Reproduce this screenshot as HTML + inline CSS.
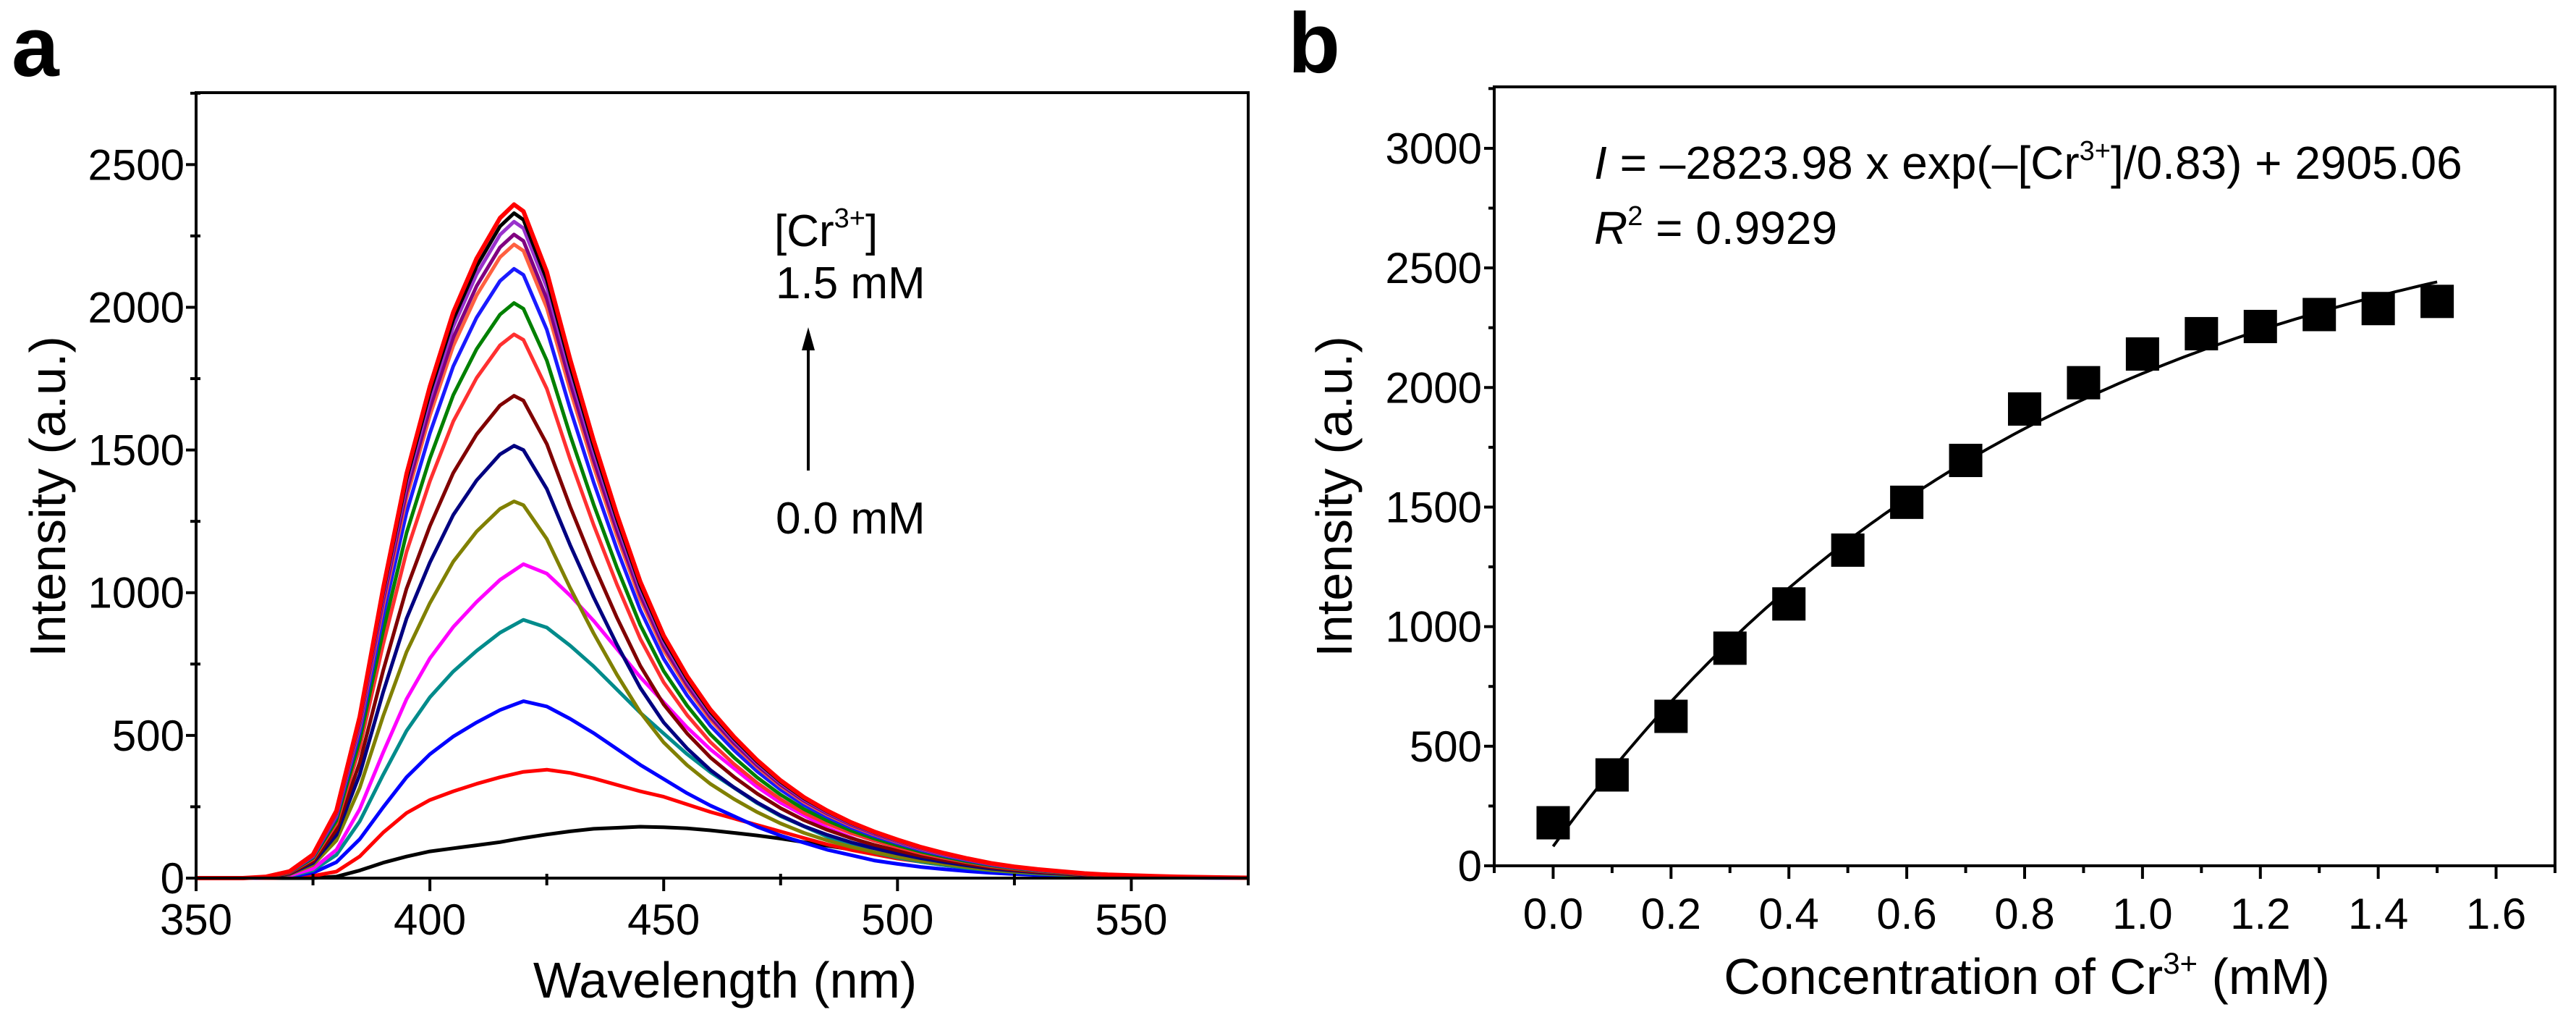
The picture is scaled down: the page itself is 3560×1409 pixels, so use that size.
<!DOCTYPE html>
<html><head><meta charset="utf-8"><style>
html,body{margin:0;padding:0;background:#fff;}
svg{display:block;font-family:"Liberation Sans",Arial,sans-serif;}
</style></head><body>
<svg id="fig" width="3560" height="1409" viewBox="0 0 3560 1409" xmlns="http://www.w3.org/2000/svg">
<g id="pa"></g>
<g id="pb"></g>
</svg>
<script>
// ---------- Panel a data ----------
const wl = [350,355,360,365,370,375,380,385,390,395,400,405,410,415,418,420,425,430,435,440,445,450,455,460,465,470,475,480,485,490,495,500,505,510,515,520,525,530,535,540,545,550,555,560,565,570,575];
const profileMain = [0,0,0,0.002,0.01,0.035,0.1,0.24,0.43,0.6,0.73,0.84,0.92,0.98,1.0,0.99,0.9,0.77,0.65,0.54,0.44,0.36,0.3,0.25,0.21,0.175,0.145,0.12,0.1,0.083,0.069,0.057,0.046,0.037,0.029,0.022,0.017,0.013,0.01,0.007,0.005,0.004,0.003,0.002,0.0015,0.001,0.0005];
const profileBroad = [0,0,0,0.002,0.008,0.03,0.09,0.22,0.4,0.57,0.7,0.8,0.88,0.95,0.98,1.0,0.97,0.9,0.82,0.73,0.64,0.56,0.48,0.41,0.35,0.29,0.24,0.2,0.16,0.13,0.1,0.08,0.063,0.05,0.039,0.03,0.023,0.017,0.013,0.009,0.007,0.005,0.003,0.002,0.0015,0.001,0.0005];
const profileRed = [0,0,0,0,0.005,0.02,0.06,0.2,0.42,0.6,0.72,0.8,0.87,0.93,0.96,0.98,1.0,0.97,0.92,0.86,0.8,0.75,0.68,0.61,0.55,0.49,0.43,0.37,0.31,0.26,0.22,0.18,0.15,0.12,0.09,0.07,0.055,0.04,0.03,0.022,0.015,0.01,0.007,0.005,0.003,0.002,0.001];
const profileBlack = [0,0,0,0,0,0,0.03,0.15,0.3,0.42,0.52,0.58,0.64,0.7,0.75,0.78,0.85,0.91,0.96,0.98,1.0,0.99,0.97,0.93,0.88,0.83,0.77,0.7,0.63,0.56,0.49,0.42,0.36,0.3,0.25,0.2,0.16,0.12,0.09,0.07,0.05,0.035,0.025,0.018,0.012,0.008,0.005];
const peaks = [180,380,620,905,1100,1320,1515,1690,1905,2015,2135,2220,2255,2300,2330,2360];
const colors = ["#000000","#ff0000","#0000ff","#008b8b","#ff00ff","#808000","#000080","#800000","#ff3030","#008000","#1a1aff","#ff6040","#800080","#9932cc","#000000","#ff0000"];
const xTicksA = [350,400,450,500,550];
const yTicksA = [0,500,1000,1500,2000,2500];

// ---------- Panel b data ----------
const conc = [0.0,0.1,0.2,0.3,0.4,0.5,0.6,0.7,0.8,0.9,1.0,1.1,1.2,1.3,1.4,1.5];
const intens = [180,380,625,910,1095,1320,1520,1695,1910,2020,2140,2225,2255,2305,2330,2360];
const fitA = [-2823.98];
const fitT = [0.83];
const fitY0 = [2905.06];
const xTicksB = ["0.0","0.2","0.4","0.6","0.8","1.0","1.2","1.4","1.6"];
const yTicksB = [0,500,1000,1500,2000,2500,3000];

const NS="http://www.w3.org/2000/svg";
function mk(parent,tag,attrs,text){const e=document.createElementNS(NS,tag);for(const k in attrs)e.setAttribute(k,attrs[k]);if(text!==undefined)e.textContent=text;parent.appendChild(e);return e;}

// ---------- Panel a ----------
const pa=document.getElementById('pa');
const A={l:271,r:1725,t:128,b:1213,x0:350,x1:575,y0:0,y1:2752};
const ax=v=>A.l+(v-A.x0)/(A.x1-A.x0)*(A.r-A.l);
const ay=v=>A.b-(v-A.y0)/(A.y1-A.y0)*(A.b-A.t);
let t=mk(pa,'text',{x:16,y:105,'font-size':118,'font-weight':'bold'},'a');


const curvesG=mk(pa,'g',{});


peaks.forEach((p,i)=>{
  const prof = i===0?profileBlack:(i===1?profileRed:(i<=4?profileBroad:profileMain));
  let d='';
  wl.forEach((w,j)=>{d+=(j?'L':'M')+ax(w).toFixed(1)+','+ay(p*prof[j]).toFixed(1);});
  const pl=mk(curvesG,'path',{d:d,fill:'none',stroke:colors[i],'stroke-width':(i===15?6:5),'stroke-linejoin':'round'});
  
  
});
let fr=mk(pa,'rect',{x:A.l,y:A.t,width:A.r-A.l,height:A.b-A.t,fill:'none',stroke:'#000','stroke-width':4});


for(let v=350;v<=575;v+=25){const maj=(v%50===0);mk(pa,'line',{x1:ax(v),x2:ax(v),y1:A.b-(maj?0:6),y2:A.b+(maj?18:10),stroke:'#000','stroke-width':4});}
xTicksA.forEach(v=>{const e=mk(pa,'text',{x:ax(v),y:1291,'font-size':60,'text-anchor':'middle'},String(v));

});
for(let v=0;v<=2750;v+=250){const maj=(v%500===0);mk(pa,'line',{x1:A.l-(maj?14:8),x2:A.l+(maj?0:6),y1:ay(v),y2:ay(v),stroke:'#000','stroke-width':4});}
yTicksA.forEach(v=>{const e=mk(pa,'text',{x:255,y:ay(v)+21,'font-size':60,'text-anchor':'end'},String(v));

});
t=mk(pa,'text',{x:1002,y:1378,'font-size':70,'text-anchor':'middle'},'Wavelength (nm)');


t=mk(pa,'text',{x:0,y:0,'font-size':70,'text-anchor':'middle',transform:'translate(90,686) rotate(-90)'},'Intensity (a.u.)');


t=mk(pa,'text',{x:1070,y:340,'font-size':62},'[Cr');


mk(t,'tspan',{dy:-26,'font-size':38},'3+');
mk(t,'tspan',{dy:26},']');
t=mk(pa,'text',{x:1072,y:412,'font-size':62},'1.5 mM');


t=mk(pa,'text',{x:1072,y:737,'font-size':62},'0.0 mM');


t=mk(pa,'line',{x1:1117,x2:1117,y1:650,y2:480,stroke:'#000','stroke-width':4});


t=mk(pa,'path',{d:'M1117,452 L1108,484 L1126,484 Z',fill:'#000'});



// ---------- Panel b ----------
const pb=document.getElementById('pb');
const B={l:2065,r:3531,t:120,b:1196,x0:-0.1,x1:1.7,y0:0,y1:3257};
const bx=v=>B.l+(v-B.x0)/(B.x1-B.x0)*(B.r-B.l);
const by=v=>B.b-(v-B.y0)/(B.y1-B.y0)*(B.b-B.t);
t=mk(pb,'text',{x:1780,y:100,'font-size':118,'font-weight':'bold'},'b');


fr=mk(pb,'rect',{x:B.l,y:B.t,width:B.r-B.l,height:B.b-B.t,fill:'none',stroke:'#000','stroke-width':4});


for(let i=-1;i<=17;i++){const v=i/10;const maj=(i%2===0);mk(pb,'line',{x1:bx(v),x2:bx(v),y1:B.b,y2:B.b+(maj?18:10),stroke:'#000','stroke-width':4});}
xTicksB.forEach(s=>{const e=mk(pb,'text',{x:bx(parseFloat(s)),y:1283,'font-size':60,'text-anchor':'middle'},s);

});
for(let v=0;v<=3250;v+=250){const maj=(v%500===0);mk(pb,'line',{x1:B.l-(maj?14:8),x2:B.l,y1:by(v),y2:by(v),stroke:'#000','stroke-width':4});}
yTicksB.forEach(v=>{const e=mk(pb,'text',{x:2048,y:by(v)+21,'font-size':60,'text-anchor':'end'},String(v));

});
let d='';
for(let i=0;i<=150;i++){const c=i/100;const y=fitA[0]*Math.exp(-c/fitT[0])+fitY0[0];d+=(i?'L':'M')+bx(c).toFixed(1)+','+by(y).toFixed(1);}
t=mk(pb,'path',{d:d,fill:'none',stroke:'#000','stroke-width':4});


conc.forEach((c,i)=>{const r=mk(pb,'rect',{x:bx(c)-23,y:by(intens[i])-23,width:46,height:46,fill:'#000'});

});
t=mk(pb,'text',{x:2203,y:247,'font-size':64},'');


mk(t,'tspan',{'font-style':'italic'},'I');
mk(t,'tspan',{},' = \u20132823.98 x exp(\u2013[Cr');
mk(t,'tspan',{dy:-26,'font-size':38},'3+');
mk(t,'tspan',{dy:26},']/0.83) + 2905.06');
t=mk(pb,'text',{x:2203,y:337,'font-size':64},'');


mk(t,'tspan',{'font-style':'italic'},'R');
mk(t,'tspan',{dy:-26,'font-size':38},'2');
mk(t,'tspan',{dy:26},' = 0.9929');
t=mk(pb,'text',{x:2801,y:1373,'font-size':70,'text-anchor':'middle'},'Concentration of Cr');


mk(t,'tspan',{dy:-28,'font-size':42},'3+');
mk(t,'tspan',{dy:28},' (mM)');
t=mk(pb,'text',{x:0,y:0,'font-size':70,'text-anchor':'middle',transform:'translate(1868,686) rotate(-90)'},'Intensity (a.u.)');


</script>
</body></html>
